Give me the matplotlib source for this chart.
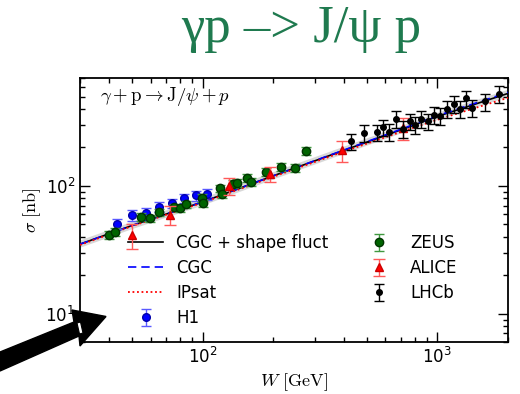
import matplotlib
matplotlib.use("Agg")
import matplotlib.pyplot as plt
from matplotlib.patches import Polygon

# ---- model curves ----
w_model = [30, 50, 100, 200, 400, 700, 1000, 2000]
sig_shape = [35, 49, 75, 120, 190, 275, 350, 530]
sig_cgc = [35, 49, 75, 120, 191, 278, 355, 540]
sig_ipsat = [34.5, 48.5, 74, 118, 186, 265, 330, 490]

# ---- data ----
h1_w = [43.1, 49.9, 57.3, 65.3, 74.0, 83.5, 93.5, 104.4]
h1_s = [50.8, 59.1, 61.6, 68.7, 73.1, 80.0, 84.2, 86.0]
h1_e = [4.5, 5.5, 5.5, 6.0, 6.5, 7.0, 7.5, 8.0]

zeus_w = [40.0, 42.3, 54.7, 59.7, 65.3, 75.2, 80.3, 85.1, 99.4, 100.3,
          118.1, 120.7, 134.8, 140.2, 155.2, 160.6, 185.2, 216.1, 246.5, 276.5]
zeus_s = [41.1, 43.7, 57.3, 55.7, 62.1, 68.0, 66.7, 71.8, 80.9, 73.1,
          95.9, 86.2, 104.1, 105.0, 115.0, 108.1, 128.2, 141.9, 139.3, 188.6]
zeus_e = [2.9, 3.1, 4.0, 3.9, 4.3, 4.8, 4.7, 5.0, 5.7, 5.1,
          6.7, 6.0, 7.3, 7.4, 8.1, 7.6, 9.0, 10.0, 9.8, 13.2]

alice_w = [50.0, 72.7, 130.0, 193.3, 393.9, 715.5]
alice_s = [41.1, 59.5, 99.5, 124.3, 189.7, 284.7]
alice_e = [9, 10, 15, 16, 35, 55]

lhcb_w = [428.8, 487.2, 552.2, 585.9, 623.4, 665.8, 711.3, 764.1, 802.9, 851.4,
          909.4, 970.5, 1029.6, 1099.8, 1172.4, 1252.2, 1325.7, 1410, 1598, 1822]
lhcb_s = [223.4, 260.0, 262.9, 287.8, 264.8, 335.1, 279.6, 320.9, 302.2, 335.1,
          320.9, 357.7, 355.7, 401.8, 436.8, 401.8, 484.2, 406.2, 458.5, 523.6]
lhcb_e = [33, 39, 39, 43, 40, 50, 42, 48, 45, 50,
          48, 54, 53, 60, 65, 60, 73, 61, 69, 79]

W, H = 520, 394
fig = plt.figure(figsize=(W / 100, H / 100), dpi=100)
fig.patch.set_facecolor("white")
ax = fig.add_axes([80 / W, (H - 342) / H, (508 - 80) / W, (342 - 78) / H])
ax.set_xscale("log")
ax.set_yscale("log")
ax.set_xlim(30, 2000)
ax.set_ylim(6, 700)

# band + curves
ax.plot(w_model, sig_shape, color="gray", lw=5, alpha=0.3, solid_capstyle="butt", zorder=1)
l1, = ax.plot(w_model, sig_shape, color="black", lw=1.2, zorder=2, label="CGC + shape fluct")
l2, = ax.plot(w_model, sig_cgc, color="blue", lw=1.2, ls=(0, (5, 3)), zorder=3, label="CGC")
l3, = ax.plot(w_model, sig_ipsat, color="red", lw=1.3, ls=(0, (1, 1.5)), zorder=4, label="IPsat")

e_h1 = ax.errorbar(h1_w, h1_s, yerr=h1_e, fmt="o", color="blue", ms=5.5, mec="#0000aa",
                   ecolor=(0.35, 0.35, 1.0), elinewidth=1.0, capsize=3.5, capthick=1.0,
                   zorder=5, label="H1")
e_zeus = ax.errorbar(zeus_w, zeus_s, yerr=zeus_e, fmt="o", color="#006400", ms=6,
                     mec="#003300", ecolor=(0.25, 0.6, 0.25), elinewidth=1.0, capsize=3.5,
                     capthick=1.0, zorder=6, label="ZEUS")
e_alice = ax.errorbar(alice_w, alice_s, yerr=alice_e, fmt="^", color="red", ms=6,
                      mec="#cc0000", ecolor=(1.0, 0.35, 0.35), elinewidth=1.0, capsize=4,
                      capthick=1.0, zorder=7, label="ALICE")
e_lhcb = ax.errorbar(lhcb_w, lhcb_s, yerr=lhcb_e, fmt="o", color="black", ms=4,
                     ecolor="black", elinewidth=1.0, capsize=3.5, capthick=1.0,
                     zorder=8, label="LHCb")

ax.tick_params(which="both", direction="in", top=True, right=True, labelsize=12)
ax.tick_params(which="major", length=7, width=1)
ax.tick_params(which="minor", length=3.5, width=1)
for s in ax.spines.values():
    s.set_linewidth(1.3)

ax.set_xlabel(r"$W\ [\mathrm{GeV}]$", fontsize=13, math_fontfamily="cm", labelpad=3)
ax.set_ylabel(r"$\sigma\ [\mathrm{nb}]$", fontsize=13, math_fontfamily="cm", labelpad=2)

ax.text((100 - 80) / 428, (342 - 97) / 264, r"$\gamma+\mathrm{p}\rightarrow\mathrm{J}/\psi+p$",
        transform=ax.transAxes, fontsize=13.5, math_fontfamily="cm", va="center", ha="left")

leg = ax.legend(handles=[l1, l2, l3, e_h1, e_zeus, e_alice, e_lhcb], ncol=2, frameon=False,
                fontsize=12, loc="upper left",
                bbox_to_anchor=(128 / W, 1 - 234 / H), bbox_transform=fig.transFigure,
                borderpad=0, borderaxespad=0, handlelength=2.1, handletextpad=0.8,
                columnspacing=2.0, labelspacing=0.42, numpoints=1)

# title
fig.text(301 / W, 1 - 42 / H, "γp –> J/ψ p", fontsize=38, family="Liberation Serif",
         color="#1f7a4f", ha="center", va="baseline")

# decorative arrow
pts = [(0, 352), (74, 322), (72, 310), (106, 316.5), (80, 346), (79, 336), (0, 371)]
arrow = Polygon([(x / W, 1 - y / H) for x, y in pts], closed=True, transform=fig.transFigure,
                facecolor="black", edgecolor="black", zorder=20)
fig.patches.append(arrow)
rect = Polygon([(x / W, 1 - y / H) for x, y in [(77, 323), (80.5, 322), (83, 333), (79.5, 334)]],
               closed=True, transform=fig.transFigure, facecolor="white", edgecolor="black",
               lw=0.8, zorder=21)
fig.patches.append(rect)

fig.savefig("out.png", dpi=100)
